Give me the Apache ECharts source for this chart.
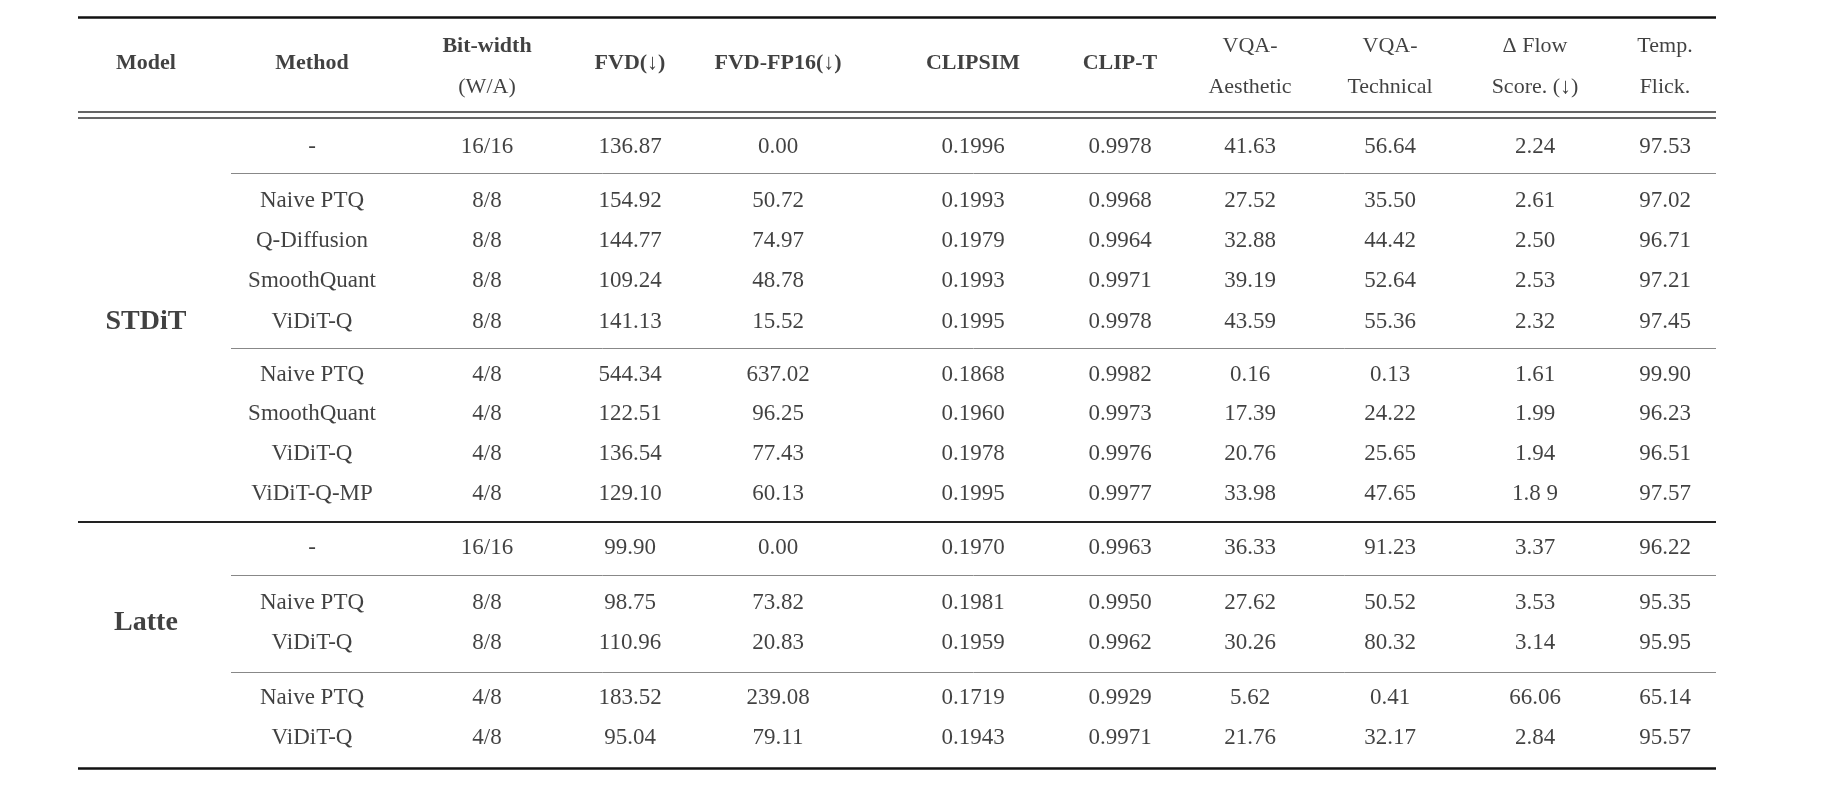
<!DOCTYPE html>
<html>
<head>
<meta charset="UTF-8">
<title>ViDiT-Q table</title>
<script src="https://cdn.jsdelivr.net/npm/echarts@6/dist/echarts.min.js"></script>
<style>html,body{margin:0;background:#fff}#main{width:1836px;height:786px}</style>
</head>
<body>
<div id="main"></div>
<script>
  // table content
  var headers = [['Model'], ['Method'], ['Bit-width', '(W/A)'], ['FVD(↓)'], ['FVD-FP16(↓)'], ['CLIPSIM'], ['CLIP-T'],
    ['VQA-', 'Aesthetic'], ['VQA-', 'Technical'], ['Δ Flow', 'Score. (↓)'], ['Temp.', 'Flick.']]
  var headerBold = [true, true, true, true, true, true, true, false, false, false, false]
  var models = ['STDiT', 'Latte']
  var methods = ['-', 'Naive PTQ', 'Q-Diffusion', 'SmoothQuant', 'ViDiT-Q', 'Naive PTQ', 'SmoothQuant', 'ViDiT-Q', 'ViDiT-Q-MP',
    '-', 'Naive PTQ', 'ViDiT-Q', 'Naive PTQ', 'ViDiT-Q']
  var bits = ['16/16', '8/8', '8/8', '8/8', '8/8', '4/8', '4/8', '4/8', '4/8', '16/16', '8/8', '8/8', '4/8', '4/8']
  var fvd = ['136.87', '154.92', '144.77', '109.24', '141.13', '544.34', '122.51', '136.54', '129.10', '99.90', '98.75', '110.96', '183.52', '95.04']
  var fvdFp16 = ['0.00', '50.72', '74.97', '48.78', '15.52', '637.02', '96.25', '77.43', '60.13', '0.00', '73.82', '20.83', '239.08', '79.11']
  var clipsim = ['0.1996', '0.1993', '0.1979', '0.1993', '0.1995', '0.1868', '0.1960', '0.1978', '0.1995', '0.1970', '0.1981', '0.1959', '0.1719', '0.1943']
  var clipT = ['0.9978', '0.9968', '0.9964', '0.9971', '0.9978', '0.9982', '0.9973', '0.9976', '0.9977', '0.9963', '0.9950', '0.9962', '0.9929', '0.9971']
  var vqaAes = ['41.63', '27.52', '32.88', '39.19', '43.59', '0.16', '17.39', '20.76', '33.98', '36.33', '27.62', '30.26', '5.62', '21.76']
  var vqaTech = ['56.64', '35.50', '44.42', '52.64', '55.36', '0.13', '24.22', '25.65', '47.65', '91.23', '50.52', '80.32', '0.41', '32.17']
  var flowScore = ['2.24', '2.61', '2.50', '2.53', '2.32', '1.61', '1.99', '1.94', '1.8 9', '3.37', '3.53', '3.14', '66.06', '2.84']
  var tempFlick = ['97.53', '97.02', '96.71', '97.21', '97.45', '99.90', '96.23', '96.51', '97.57', '96.22', '95.35', '95.95', '65.14', '95.57']

  // layout
  var colX = [146, 312, 487, 630, 778, 973, 1120, 1250, 1390, 1535, 1665]
  var rowY = [147, 201, 241, 281, 322, 375, 414, 454, 494, 548, 603, 643, 698, 738]
  var modelY = [322, 623]
  var left = 78, right = 1716, ruleLeft = 231

  var columns = [methods, bits, fvd, fvdFp16, clipsim, clipT, vqaAes, vqaTech, flowScore, tempFlick]
  var cellData = []
  columns.forEach(function (col, c) {
    col.forEach(function (v, r) { cellData.push({ value: [colX[c + 1], rowY[r]], name: v }) })
  })
  var headData = []
  headers.forEach(function (h, i) {
    var bold = headerBold[i] ? 'bold' : 'normal'
    if (h.length === 1) headData.push({ value: [colX[i], 63], name: h[0], label: { fontWeight: bold } })
    else {
      headData.push({ value: [colX[i], 46], name: h[0], label: { fontWeight: bold } })
      headData.push({ value: [colX[i], 87], name: h[1], label: { fontWeight: 'normal' } })
    }
  })
  var modelData = models.map(function (m, i) { return { value: [colX[0], modelY[i]], name: m } })

  var rules = [
    { y: 17, x0: left, w: 2.6, c: '#111' },
    { y: 112, x0: left, w: 1.5, c: '#333' },
    { y: 118, x0: left, w: 1.5, c: '#333' },
    { y: 173, x0: ruleLeft, w: 1, c: '#888' },
    { y: 348, x0: ruleLeft, w: 1, c: '#888' },
    { y: 522, x0: left, w: 2, c: '#222' },
    { y: 575, x0: ruleLeft, w: 1, c: '#888' },
    { y: 672, x0: ruleLeft, w: 1, c: '#888' },
    { y: 768, x0: left, w: 2.6, c: '#111' }
  ]
  var lineData = rules.map(function (r) {
    return { coords: [[r.x0, r.y], [right, r.y]], lineStyle: { width: r.w, color: r.c, opacity: 1 } }
  })

  var textLabel = function (size, weight) {
    return { show: true, position: 'inside', formatter: '{b}', color: '#111',
      fontFamily: 'Liberation Serif', fontSize: size, fontWeight: weight }
  }
  var cellStyle = { color: 'rgba(0,0,0,0)' }
  var mCharts = echarts.init(document.getElementById('main'))
  mCharts.setOption({
    animation: false,
    grid: { left: 0, right: 0, top: 0, bottom: 0 },
    xAxis: { type: 'value', min: 0, max: 1836, show: false },
    yAxis: { type: 'value', min: 0, max: 786, inverse: true, show: false },
    series: [
      { type: 'lines', coordinateSystem: 'cartesian2d', polyline: false, data: lineData, silent: true,
        lineStyle: { opacity: 1 } },
      { type: 'scatter', symbolSize: 1, itemStyle: cellStyle, data: cellData, label: textLabel(23, 'normal') },
      { type: 'scatter', symbolSize: 1, itemStyle: cellStyle, data: headData, label: textLabel(22, 'bold') },
      { type: 'scatter', symbolSize: 1, itemStyle: cellStyle, data: modelData, label: textLabel(28, 'bold') }
    ]
  })
</script>
</body>
</html>
